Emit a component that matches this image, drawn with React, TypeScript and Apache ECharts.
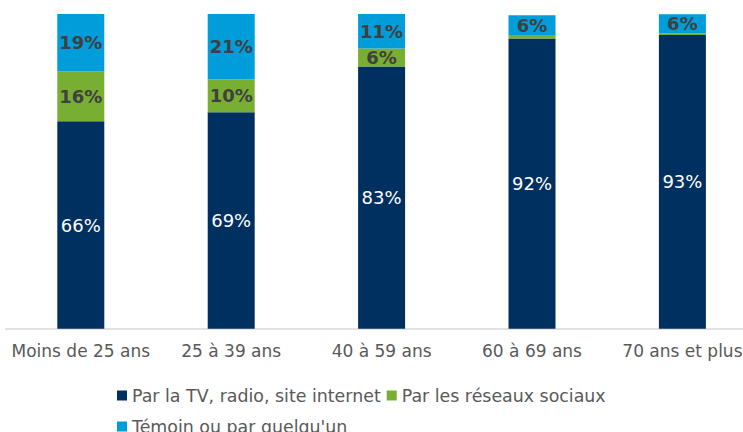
import React, { useEffect, useRef } from "react";
import * as echarts from "echarts";

const categories = ["Moins de 25 ans", "25 à 39 ans", "40 à 59 ans", "60 à 69 ans", "70 ans et plus"];
const seriesNames = ["Par la TV, radio, site internet", "Par les réseaux sociaux", "Témoin ou par quelqu'un"];
const tvValues = [65.9, 68.8, 83.3, 92.2, 93.3];
const socialValues = [15.9, 10.4, 5.7, 1.1, 0.5];
const witnessValues = [18.6, 20.8, 11.0, 6.3, 6.1];
const colors = ["#00305F", "#78AE32", "#009DDB"];

const FONT = "DejaVu Sans";

export default function App() {
  const ref = useRef<HTMLDivElement>(null);
  useEffect(() => {
    document.body.style.margin = "0";
    if (!ref.current) return;
    const chart = echarts.init(ref.current, null, { renderer: "svg" });
    const fmt = (p: any) => (p.value < 3 ? "" : Math.round(p.value) + "%");
    const mk = (name: string, data: number[], color: string, labelColor: string, bold: boolean) => ({
      name,
      type: "bar",
      stack: "total",
      data,
      barWidth: 47,
      itemStyle: { color },
      label: {
        show: true,
        position: "inside",
        formatter: fmt,
        color: labelColor,
        fontFamily: FONT,
        fontSize: 18,
        fontWeight: bold ? "bold" : "normal",
      },
    });
    chart.setOption({
      animation: false,
      color: colors,
      grid: {
        left: 5.6,
        width: 752,
        top: 14,
        height: 314.7,
        containLabel: false,
        outerBoundsMode: "none",
      },
      xAxis: {
        type: "category",
        data: categories,
        axisLine: { lineStyle: { color: "#D9D9D9", width: 1.5 } },
        axisTick: { show: false },
        axisLabel: { color: "#595959", fontFamily: FONT, fontSize: 17, margin: 14, interval: 0 },
      },
      yAxis: { type: "value", min: 0, max: 100, show: false, splitLine: { show: false } },
      legend: {
        data: seriesNames,
        left: 117,
        top: 383,
        padding: 0,
        itemWidth: 10,
        itemHeight: 10,
        itemGap: 6,
        icon: "rect",
        textStyle: { color: "#595959", fontFamily: FONT, fontSize: 17.4, lineHeight: 25 },
      },
      series: [
        mk(seriesNames[0], tvValues, colors[0], "#FFFFFF", false),
        mk(seriesNames[1], socialValues, colors[1], "#404040", true),
        mk(seriesNames[2], witnessValues, colors[2], "#404040", true),
      ],
    });
    return () => chart.dispose();
  }, []);
  return <div ref={ref} style={{ width: 743, height: 432 }} />;
}
